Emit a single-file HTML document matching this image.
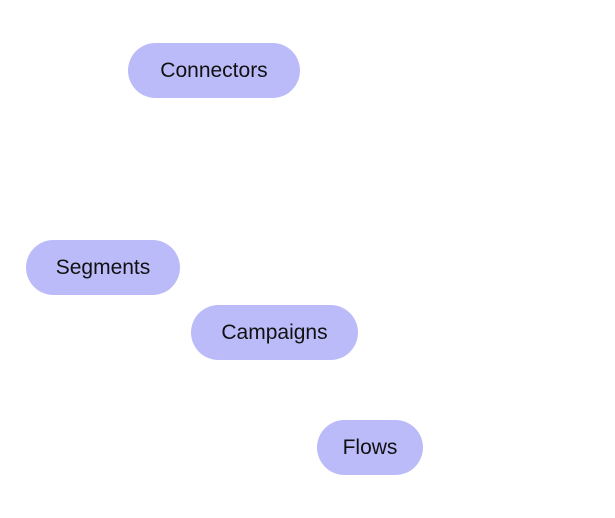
<!DOCTYPE html>
<html><head><style>
body{margin:0;width:615px;height:518px;background:#fff;position:relative;overflow:hidden;font-family:"Liberation Sans",sans-serif}
.p{position:absolute;height:55px;border-radius:28px;background:#bbbbf9;color:#111;font-size:21px;display:flex;align-items:center;justify-content:center}
</style></head><body>
<div class="p" style="left:128px;top:43px;width:172px">Connectors</div>
<div class="p" style="left:26px;top:240px;width:154px">Segments</div>
<div class="p" style="left:191px;top:305px;width:167px">Campaigns</div>
<div class="p" style="left:317px;top:420px;width:106px">Flows</div>
</body></html>
